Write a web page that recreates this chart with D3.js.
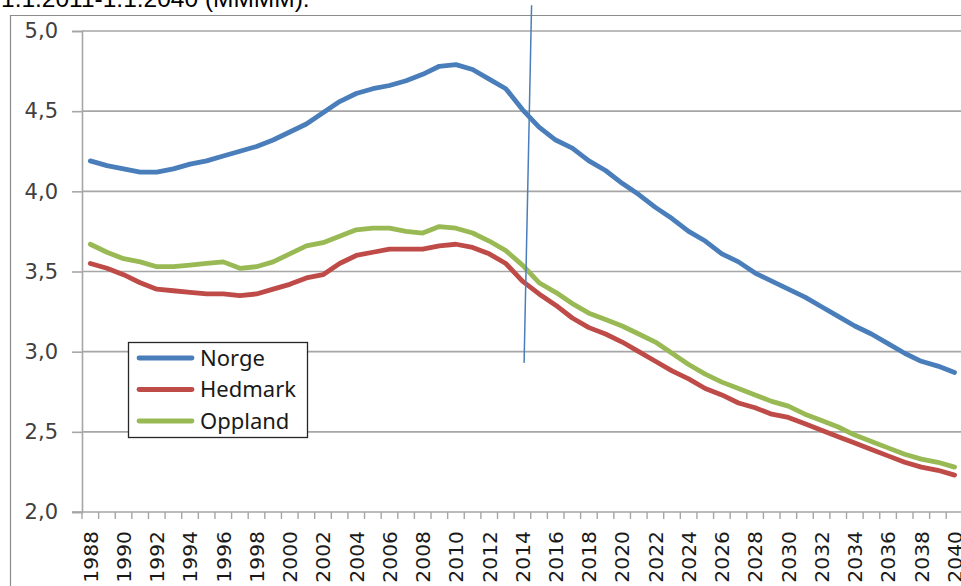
<!DOCTYPE html>
<html>
<head>
<meta charset="utf-8">
<script src="https://cdn.jsdelivr.net/npm/d3@7"></script>
<style>
  body { margin: 0; background: #fff; }
  svg { display: block; }
</style>
</head>
<body>
<svg id="chart" width="961" height="586"></svg>
<script>
const years = d3.range(1988, 2041);
const yTicks = [2.0, 2.5, 3.0, 3.5, 4.0, 4.5, 5.0];
const seriesNames = ['Norge', 'Hedmark', 'Oppland'];
const seriesColors = ['#4a7ebb', '#be4b48', '#98b954'];

const norge = [4.19, 4.16, 4.14, 4.12, 4.12, 4.14, 4.17, 4.19, 4.22, 4.25, 4.28, 4.32, 4.37,
  4.42, 4.49, 4.56, 4.61, 4.64, 4.66, 4.69, 4.73, 4.78, 4.79, 4.76, 4.70, 4.64, 4.51,
  4.40, 4.32, 4.27, 4.19, 4.13, 4.05, 3.98, 3.90, 3.83, 3.75, 3.69, 3.61, 3.56, 3.49,
  3.44, 3.39, 3.34, 3.28, 3.22, 3.16, 3.11, 3.05, 2.99, 2.94, 2.91, 2.87];
const hedmark = [3.55, 3.52, 3.48, 3.43, 3.39, 3.38, 3.37, 3.36, 3.36, 3.35, 3.36, 3.39, 3.42,
  3.46, 3.48, 3.55, 3.60, 3.62, 3.64, 3.64, 3.64, 3.66, 3.67, 3.65, 3.61, 3.55, 3.44,
  3.36, 3.29, 3.21, 3.15, 3.11, 3.06, 3.00, 2.94, 2.88, 2.83, 2.77, 2.73, 2.68, 2.65,
  2.61, 2.59, 2.55, 2.51, 2.47, 2.43, 2.39, 2.35, 2.31, 2.28, 2.26, 2.23];
const oppland = [3.67, 3.62, 3.58, 3.56, 3.53, 3.53, 3.54, 3.55, 3.56, 3.52, 3.53, 3.56, 3.61,
  3.66, 3.68, 3.72, 3.76, 3.77, 3.77, 3.75, 3.74, 3.78, 3.77, 3.74, 3.69, 3.63, 3.54,
  3.43, 3.37, 3.30, 3.24, 3.20, 3.16, 3.11, 3.06, 2.99, 2.92, 2.86, 2.81, 2.77, 2.73,
  2.69, 2.66, 2.61, 2.57, 2.53, 2.48, 2.44, 2.40, 2.36, 2.33, 2.31, 2.28];

// hand drawn marker line near 2014: [year, value] at both ends
const marker = [[2014.55, 5.16], [2014.1, 2.93]];

const series = [norge, hedmark, oppland].map((vals, i) => ({
  name: seriesNames[i],
  color: seriesColors[i],
  values: vals.map((v, j) => ({ year: years[j], v }))
}));

const svg = d3.select('#chart');
const plotLeft = 82, plotTop = 31, plotBottom = 512;
const bw = 16.62;

const x = d3.scaleBand()
  .domain(years)
  .range([plotLeft, plotLeft + years.length * bw]);

const y = d3.scaleLinear()
  .domain([2, 5])
  .range([plotBottom, plotTop]);

const xc = yr => x(yr) + x.bandwidth() / 2;
const xLin = d3.scaleLinear().domain([1988, 2040]).range([xc(1988), xc(2040)]);

// title fragment cut off at the top
svg.append('text')
  .attr('x', 1)
  .attr('y', 7)
  .attr('font-family', 'Liberation Sans, Arial, sans-serif')
  .attr('font-size', 24.5)
  .attr('fill', '#000')
  .text('1.1.2011-1.1.2040 (MMMM).');

// chart frame
svg.append('path')
  .attr('d', `M10.5,586 V15.5 H961`)
  .attr('fill', 'none')
  .attr('stroke', '#8c8c8c')
  .attr('stroke-width', 1.2);

// gridlines + y axis
const yAxis = svg.append('g')
  .attr('transform', `translate(${plotLeft},0)`)
  .call(d3.axisLeft(y).tickValues(yTicks).tickSize(10).tickPadding(14)
    .tickFormat(d => d3.format('.1f')(d).replace('.', ',')));
yAxis.select('.domain').attr('stroke', '#a6a6a6').attr('stroke-width', 1.6);
yAxis.selectAll('.tick line').attr('stroke', '#a6a6a6').attr('stroke-width', 1.6);
yAxis.selectAll('.tick text')
  .attr('font-family', 'DejaVu Sans, sans-serif')
  .attr('font-size', 21)
  .attr('fill', '#404040');

svg.append('g')
  .selectAll('line')
  .data(yTicks.filter(d => d > 2))
  .join('line')
  .attr('x1', plotLeft)
  .attr('x2', 961)
  .attr('y1', d => y(d))
  .attr('y2', d => y(d))
  .attr('stroke', '#a6a6a6')
  .attr('stroke-width', 1.6);

// x axis: ticks between categories
const xAxis = svg.append('g');
xAxis.append('line')
  .attr('x1', plotLeft - 10)
  .attr('x2', 961)
  .attr('y1', plotBottom)
  .attr('y2', plotBottom)
  .attr('stroke', '#a6a6a6')
  .attr('stroke-width', 1.6);
xAxis.selectAll('.tk')
  .data(years.concat([2041]))
  .join('line')
  .attr('class', 'tk')
  .attr('x1', d => d === 2041 ? x(2040) + x.bandwidth() : x(d))
  .attr('x2', d => d === 2041 ? x(2040) + x.bandwidth() : x(d))
  .attr('y1', plotBottom)
  .attr('y2', plotBottom + 7)
  .attr('stroke', '#a6a6a6')
  .attr('stroke-width', 1.4);
xAxis.selectAll('.lbl')
  .data(years.filter(d => (d - 1988) % 2 === 0))
  .join('text')
  .attr('class', 'lbl')
  .attr('transform', d => `translate(${xc(d)},${plotBottom + 19}) rotate(-90)`)
  .attr('dy', '0.36em')
  .attr('text-anchor', 'end')
  .attr('font-family', 'DejaVu Sans, sans-serif')
  .attr('font-size', 20.3)
  .attr('fill', '#1a1a1a')
  .text(d => d);

// lines
const line = d3.line()
  .x(d => xc(d.year))
  .y(d => y(d.v));

svg.append('g')
  .selectAll('path')
  .data(series)
  .join('path')
  .attr('d', d => line(d.values))
  .attr('fill', 'none')
  .attr('stroke', d => d.color)
  .attr('stroke-width', 4.8)
  .attr('stroke-linejoin', 'round')
  .attr('stroke-linecap', 'round');

// annotation line
svg.append('line')
  .attr('x1', xLin(marker[0][0]))
  .attr('y1', y(marker[0][1]))
  .attr('x2', xLin(marker[1][0]))
  .attr('y2', y(marker[1][1]))
  .attr('stroke', '#4a7ebb')
  .attr('stroke-width', 1.5);

// legend
const lg = svg.append('g').attr('transform', 'translate(128,342)');
lg.append('rect')
  .attr('x', 0.5)
  .attr('y', 0.5)
  .attr('width', 179)
  .attr('height', 95)
  .attr('fill', '#fff')
  .attr('stroke', '#262626')
  .attr('stroke-width', 1.3);
const items = lg.selectAll('.item')
  .data(series)
  .join('g')
  .attr('class', 'item')
  .attr('transform', (d, i) => `translate(0,${16 + i * 31.5})`);
items.append('line')
  .attr('x1', 11)
  .attr('x2', 64)
  .attr('stroke', d => d.color)
  .attr('stroke-width', 4.8)
  .attr('stroke-linecap', 'round');
items.append('text')
  .attr('x', 72)
  .attr('dy', '0.35em')
  .attr('font-family', 'Noto Sans, sans-serif')
  .attr('font-size', 22)
  .attr('fill', '#1a1a1a')
  .text(d => d.name);
</script>
</body>
</html>
